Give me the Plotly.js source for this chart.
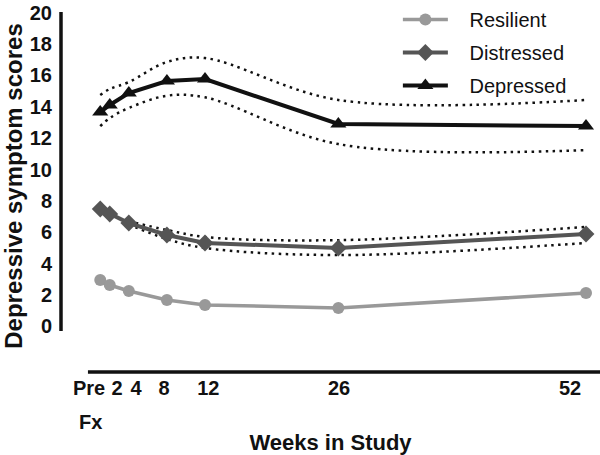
<!DOCTYPE html>
<html>
<head>
<meta charset="utf-8">
<script src="https://cdn.plot.ly/plotly-3.0.1.min.js"></script>
<style>
  html, body { margin: 0; padding: 0; background: #fff; }
  #plot { width: 600px; height: 455px; }
</style>
</head>
<body>
<div id="plot"></div>
<script>
// weeks in study (Pre Fx plotted at week 1)
var weeks = [1, 2, 4, 8, 12, 26, 52];

var resilient = [2.96, 2.64, 2.26, 1.69, 1.37, 1.18, 2.13];
var distressed = [7.48, 7.17, 6.59, 5.83, 5.32, 5.0, 5.89];
var depressed = [13.66, 14.11, 14.87, 15.64, 15.76, 12.9, 12.77];

// dotted confidence bands
var depressedUpper = [14.75, 15.13, 15.57, 16.85, 17.1, 14.43, 14.43];
var depressedLower = [12.77, 13.28, 13.92, 14.7, 14.6, 11.62, 11.24];
var distressedCiWeeks = [4, 8, 12, 26, 52];
var distressedUpper = [6.7, 6.15, 5.7, 5.5, 6.34];
var distressedLower = [6.5, 5.57, 5.0, 4.55, 5.32];

// x tick labels, placed where the picture prints them
var tickPos = [-0.18, 2.76, 4.76, 7.7, 12.34, 26.07, 50.32];
var tickText = ['Pre', '2', '4', '8', '12', '26', '52'];

var font = 'Liberation Sans, Arial, sans-serif';
var dotted = {color: '#111', width: 2.5, dash: '2.5px,4.5px', shape: 'spline', smoothing: 1};
var gap = '\u00a0\u00a0\u00a0';

var data = [
  {x: weeks, y: depressedUpper, mode: 'lines', line: dotted, showlegend: false, hoverinfo: 'skip'},
  {x: weeks, y: depressedLower, mode: 'lines', line: dotted, showlegend: false, hoverinfo: 'skip'},
  {x: distressedCiWeeks, y: distressedUpper, mode: 'lines', line: dotted, showlegend: false, hoverinfo: 'skip'},
  {x: distressedCiWeeks, y: distressedLower, mode: 'lines', line: dotted, showlegend: false, hoverinfo: 'skip'},
  {
    x: weeks, y: resilient, name: gap + 'Resilient', legendgroup: 'a',
    mode: 'lines+markers', type: 'scatter',
    line: {color: '#999999', width: 3.5},
    marker: {symbol: 'circle', size: 12, color: '#999999'}
  },
  {
    x: weeks, y: distressed, name: gap + 'Distressed', legendgroup: 'b',
    mode: 'lines+markers', type: 'scatter',
    line: {color: '#555555', width: 4},
    marker: {symbol: 'diamond', size: 13, color: '#555555'}
  },
  {
    x: weeks, y: depressed, name: gap + 'Depressed', legendgroup: 'c',
    mode: 'lines+markers', type: 'scatter',
    line: {color: '#111111', width: 4},
    marker: {symbol: 'triangle-up', size: 14, color: '#111111'}
  }
];

var layout = {
  width: 600, height: 455,
  margin: {l: 61, r: 0, t: 0, b: 83},
  paper_bgcolor: '#fff', plot_bgcolor: '#fff',
  showlegend: true,
  legend: {
    x: 0.625, y: 1, xanchor: 'left', yanchor: 'top',
    font: {family: font, size: 20, color: '#111'},
    bgcolor: 'rgba(0,0,0,0)', tracegroupgap: 4, itemwidth: 45
  },
  xaxis: {
    range: [-3.12, 53.47],
    showgrid: false, zeroline: false, showline: false,
    tickmode: 'array', tickvals: tickPos, ticktext: tickText,
    ticks: '', ticklabelstandoff: 2,
    tickfont: {family: font, size: 20, weight: 'bold', color: '#111'},
    title: {text: 'Weeks in Study', standoff: 38,
      font: {family: font, size: 22, weight: 'bold', color: '#111'}}
  },
  yaxis: {
    range: [-2.9, 20.8],
    showgrid: false, zeroline: false, showline: false,
    tickvals: [0, 2, 4, 6, 8, 10, 12, 14, 16, 18, 20],
    ticks: '', ticklabelstandoff: 8,
    tickfont: {family: font, size: 20, weight: 'bold', color: '#111'},
    title: {text: 'Depressive symptom scores', standoff: 12,
      font: {family: font, size: 24, weight: 'bold', color: '#111'}}
  },
  shapes: [
    {type: 'line', xref: 'paper', yref: 'paper', x0: 0, x1: 0, y0: 0.110, y1: 0.968,
      line: {color: '#111', width: 3.5}},
    {type: 'line', xref: 'paper', yref: 'paper', x0: 0.05, x1: 1, y0: 0, y1: 0,
      line: {color: '#111', width: 3.5}}
  ],
  annotations: [
    {text: 'Fx', xref: 'x', yref: 'paper', x: -0.05, y: 0, yshift: -63,
      showarrow: false, font: {family: font, size: 20, weight: 'bold', color: '#111'}}
  ]
};

Plotly.newPlot('plot', data, layout, {staticPlot: true});
</script>
</body>
</html>
